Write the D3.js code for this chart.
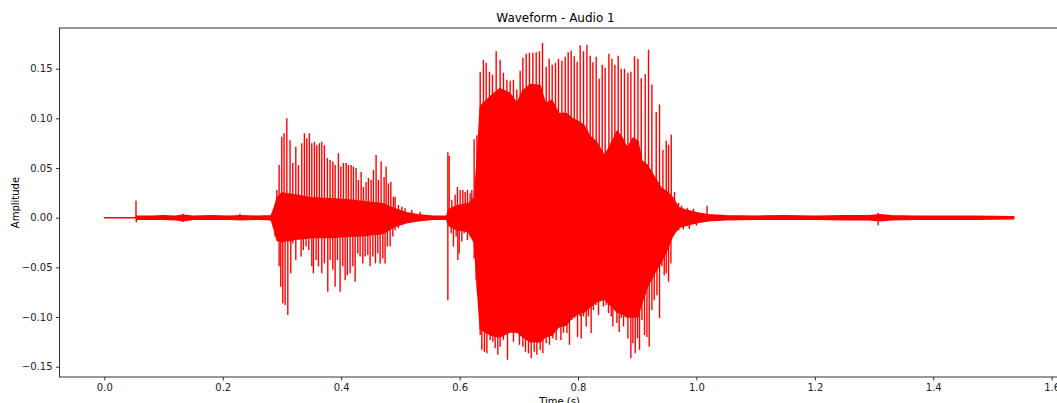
<!DOCTYPE html>
<html>
<head>
<meta charset="utf-8">
<script src="https://cdn.jsdelivr.net/npm/d3@7"></script>
<style>
  html, body { margin: 0; padding: 0; background: #fff; }
  svg { display: block; font-family: "DejaVu Sans", sans-serif; }
</style>
</head>
<body>
<svg id="chart" width="1057" height="403"></svg>
<script>
// Dense core of the waveform (the solid band between successive pulses), seconds / amplitude
const coreTime  = [0.000, 0.0530, 0.0545, 0.080, 0.100, 0.120, 0.133, 0.150, 0.180, 0.210, 0.230, 0.260,
  0.282, 0.287, 0.292, 0.300, 0.320, 0.350, 0.380, 0.410, 0.440, 0.470, 0.490, 0.510, 0.530, 0.555,
  0.578, 0.582, 0.595, 0.615, 0.625, 0.630, 0.635, 0.652, 0.668, 0.685, 0.697, 0.707, 0.720, 0.736,
  0.745, 0.756, 0.767, 0.780, 0.790, 0.800, 0.810, 0.820, 0.830, 0.845, 0.858, 0.866, 0.875, 0.883,
  0.893, 0.901, 0.908, 0.917, 0.930, 0.940, 0.950, 0.960, 0.970, 0.980, 1.000, 1.020, 1.050, 1.100,
  1.150, 1.200, 1.250, 1.290, 1.310, 1.330, 1.370, 1.420, 1.470, 1.536];
const coreUpper = [0, 0, 0.0015, 0.0015, 0.002, 0.0015, 0.0025, 0.0015, 0.002, 0.0015, 0.002, 0.0015,
  0.002, 0.010, 0.020, 0.025, 0.023, 0.020, 0.019, 0.018, 0.016, 0.014, 0.009, 0.005, 0.003, 0.0015,
  0.0015, 0.008, 0.012, 0.014, 0.020, 0.060, 0.112, 0.122, 0.130, 0.125, 0.115, 0.128, 0.134, 0.133,
  0.115, 0.118, 0.105, 0.105, 0.100, 0.097, 0.093, 0.082, 0.077, 0.062, 0.077, 0.087, 0.080, 0.070,
  0.080, 0.077, 0.057, 0.053, 0.040, 0.030, 0.026, 0.020, 0.010, 0.008, 0.005, 0.003, 0.002, 0.0015,
  0.002, 0.0015, 0.002, 0.002, 0.003, 0.002, 0.0015, 0.0015, 0.0015, 0.001];
const coreLower = [0, 0, -0.0015, -0.0015, -0.0015, -0.002, -0.003, -0.0015, -0.0015, -0.0015, -0.002, -0.0015,
  -0.002, -0.012, -0.023, -0.024, -0.022, -0.020, -0.020, -0.019, -0.018, -0.016, -0.009, -0.005, -0.003, -0.0015,
  -0.0015, -0.008, -0.012, -0.014, -0.025, -0.070, -0.112, -0.118, -0.120, -0.115, -0.115, -0.120, -0.125, -0.125,
  -0.120, -0.118, -0.110, -0.108, -0.100, -0.097, -0.095, -0.090, -0.085, -0.082, -0.090, -0.095, -0.097, -0.100,
  -0.100, -0.100, -0.085, -0.070, -0.055, -0.045, -0.033, -0.018, -0.010, -0.008, -0.005, -0.003, -0.002, -0.0015,
  -0.0015, -0.0015, -0.002, -0.002, -0.003, -0.002, -0.0015, -0.0015, -0.0015, -0.001];

// Positive excursion of each pulse
const peakTime = [0.0535, 0.1330, 0.2290,
  0.2884, 0.2913, 0.2952, 0.2997, 0.3036, 0.3082, 0.3137, 0.3183, 0.3234, 0.3278, 0.3335, 0.3379,
  0.3420, 0.3463, 0.3504, 0.3548, 0.3588, 0.3632, 0.3673, 0.3717, 0.3768, 0.3813, 0.3859, 0.3898,
  0.3953, 0.3994, 0.4038, 0.4084, 0.4122, 0.4168, 0.4207, 0.4252, 0.4291, 0.4337, 0.4376, 0.4421,
  0.4460, 0.4506, 0.4545, 0.4590, 0.4629, 0.4675, 0.4725, 0.4759, 0.4798, 0.4839, 0.4883, 0.4911,
  0.4967, 0.5025, 0.5080, 0.5193, 0.5334,
  0.5802, 0.5824, 0.5869, 0.5925, 0.5964, 0.6010, 0.6055, 0.6094, 0.6133, 0.6178,
  0.6207, 0.6246, 0.6292, 0.6319, 0.6348, 0.6403, 0.6449, 0.6505, 0.6555, 0.6618, 0.6685, 0.6741,
  0.6799, 0.6854, 0.6910, 0.6967, 0.7023, 0.7069, 0.7125, 0.7180, 0.7238, 0.7294, 0.7349, 0.7400,
  0.7463, 0.7513, 0.7564, 0.7620, 0.7670, 0.7728, 0.7784, 0.7834, 0.7885, 0.7936, 0.7986, 0.8037,
  0.8093, 0.8150, 0.8206, 0.8251, 0.8307, 0.8358, 0.8409, 0.8459, 0.8522, 0.8573, 0.8623, 0.8679,
  0.8730, 0.8785, 0.8843, 0.8893, 0.8954, 0.9012, 0.9068, 0.9135, 0.9191, 0.9248, 0.9321, 0.9377,
  0.9434, 0.9490, 0.9529, 0.9575, 0.9630, 0.9698,
  0.9750, 0.9850, 0.9950, 1.0180, 1.3070];
const peakValue = [0.017, 0.004, 0.004,
  0.0128, 0.028, 0.053, 0.0815, 0.085, 0.100, 0.078, 0.055, 0.0715, 0.053, 0.075, 0.085,
  0.080, 0.085, 0.075, 0.0765, 0.073, 0.075, 0.0765, 0.073, 0.060, 0.058, 0.0565, 0.053,
  0.065, 0.0515, 0.055, 0.055, 0.053, 0.053, 0.0515, 0.050, 0.038, 0.046, 0.031, 0.036,
  0.040, 0.038, 0.048, 0.063, 0.038, 0.0565, 0.041, 0.0515, 0.0345, 0.036, 0.021, 0.021,
  0.0128, 0.011, 0.0095, 0.0078, 0.006,
  0.066, 0.062, 0.018, 0.023, 0.031, 0.028, 0.028, 0.026, 0.028, 0.0245,
  0.028, 0.079, 0.083, 0.062, 0.147, 0.159, 0.156, 0.147, 0.144, 0.1675, 0.159, 0.146,
  0.139, 0.138, 0.139, 0.129, 0.148, 0.161, 0.165, 0.166, 0.166, 0.1665, 0.1675, 0.176,
  0.152, 0.160, 0.154, 0.156, 0.160, 0.158, 0.162, 0.1665, 0.168, 0.1625, 0.157, 0.1735,
  0.1675, 0.174, 0.163, 0.1565, 0.162, 0.140, 0.154, 0.151, 0.165, 0.160, 0.154, 0.163,
  0.150, 0.150, 0.146, 0.147, 0.1625, 0.160, 0.1405, 0.1445, 0.169, 0.134, 0.1065, 0.114,
  0.0685, 0.0775, 0.0735, 0.0835, 0.026, 0.015,
  0.012, 0.010, 0.009, 0.012, 0.005];

// Negative excursion of each pulse
const troughTime = [0.0540, 0.1330,
  0.2884, 0.2952, 0.2980, 0.3014, 0.3053, 0.3099, 0.3149, 0.3183, 0.3234, 0.3278, 0.3323, 0.3362,
  0.3408, 0.3453, 0.3504, 0.3531, 0.3577, 0.3616, 0.3673, 0.3717, 0.3774, 0.3813, 0.3859, 0.3898,
  0.3937, 0.3982, 0.4028, 0.4067, 0.4105, 0.4151, 0.4197, 0.4236, 0.4281, 0.4320, 0.4366, 0.4405,
  0.4450, 0.4489, 0.4535, 0.4579, 0.4619, 0.4658, 0.4704, 0.4742, 0.4781, 0.4827, 0.4873, 0.4911,
  0.4967, 0.5025, 0.5080, 0.5193,
  0.5802, 0.5858, 0.5896, 0.5942, 0.5971, 0.5993, 0.6038, 0.6077, 0.6133, 0.6178,
  0.6207, 0.6246, 0.6280, 0.6302, 0.6348, 0.6376, 0.6420, 0.6461, 0.6516, 0.6562, 0.6601, 0.6646,
  0.6685, 0.6741, 0.6809, 0.6854, 0.6910, 0.6967, 0.7011, 0.7069, 0.7113, 0.7163, 0.7209, 0.7260,
  0.7305, 0.7361, 0.7407, 0.7463, 0.7518, 0.7576, 0.7631, 0.7670, 0.7711, 0.7755, 0.7813, 0.7856,
  0.7897, 0.7941, 0.7992, 0.8037, 0.8054, 0.8093, 0.8138, 0.8176, 0.8222, 0.8261, 0.8302, 0.8346,
  0.8392, 0.8431, 0.8476, 0.8515, 0.8561, 0.8589, 0.8616, 0.8657, 0.8696, 0.8730, 0.8769, 0.8809,
  0.8843, 0.8893, 0.8927, 0.8966, 0.9005, 0.9039, 0.9080, 0.9123, 0.9164, 0.9203, 0.9248, 0.9287,
  0.9333, 0.9377, 0.9417, 0.9456, 0.9490, 0.9529, 0.9569, 0.9603,
  0.9700, 0.9780, 0.9880, 1.0000, 1.3070];
const troughValue = [-0.0045, -0.004,
  -0.019, -0.049, -0.0695, -0.086, -0.088, -0.098, -0.056, -0.026, -0.0425, -0.019, -0.039, -0.0325,
  -0.029, -0.0325, -0.049, -0.056, -0.0425, -0.049, -0.056, -0.046, -0.0745, -0.0425, -0.0525, -0.0695,
  -0.0425, -0.0745, -0.049, -0.063, -0.058, -0.056, -0.049, -0.0645, -0.036, -0.039, -0.046, -0.039,
  -0.0375, -0.049, -0.039, -0.046, -0.036, -0.046, -0.041, -0.046, -0.029, -0.029, -0.019, -0.0124,
  -0.0107, -0.0074, -0.0057, -0.004,
  -0.083, -0.0157, -0.029, -0.019, -0.0425, -0.036, -0.024, -0.0157, -0.0225, -0.019,
  -0.019, -0.041, -0.063, -0.0745, -0.118, -0.133, -0.135, -0.1365, -0.123, -0.125, -0.1315, -0.138,
  -0.130, -0.123, -0.143, -0.115, -0.125, -0.116, -0.128, -0.130, -0.135, -0.1365, -0.1415, -0.135,
  -0.138, -0.133, -0.1365, -0.1265, -0.128, -0.1215, -0.123, -0.106, -0.123, -0.116, -0.116, -0.128,
  -0.103, -0.101, -0.120, -0.099, -0.1215, -0.0995, -0.1095, -0.0995, -0.116, -0.093, -0.088, -0.098,
  -0.081, -0.0895, -0.088, -0.096, -0.0995, -0.1095, -0.091, -0.106, -0.115, -0.101, -0.1095, -0.098,
  -0.1215, -0.1415, -0.1265, -0.1365, -0.1215, -0.133, -0.103, -0.118, -0.120, -0.130, -0.093, -0.083,
  -0.078, -0.101, -0.049, -0.058, -0.056, -0.0645, -0.046, -0.019,
  -0.013, -0.012, -0.011, -0.008, -0.0075];

const xTicks = [0.0, 0.2, 0.4, 0.6, 0.8, 1.0, 1.2, 1.4, 1.6];
const yTicks = [-0.15, -0.10, -0.05, 0.00, 0.05, 0.10, 0.15];

const plot = { left: 59.5, right: 1059.5, top: 28, bottom: 377 };
const RED = "#ff0000";

const svg = d3.select("#chart");

const x = d3.scaleLinear().domain([-0.0757, 1.6132]).range([plot.left, plot.right]);
const y = d3.scaleLinear().domain([-0.16037, 0.19098]).range([plot.bottom, plot.top]);

svg.append("defs").append("clipPath").attr("id", "plotClip")
  .append("rect")
  .attr("x", plot.left).attr("y", plot.top)
  .attr("width", plot.right - plot.left).attr("height", plot.bottom - plot.top);

const g = svg.append("g").attr("clip-path", "url(#plotClip)");

// solid core of the signal
const core = coreTime.map((t, i) => ({ t, hi: coreUpper[i], lo: coreLower[i] }));
g.append("path")
  .datum(core)
  .attr("d", d3.area().x(d => x(d.t)).y0(d => y(d.lo)).y1(d => y(d.hi)))
  .attr("fill", RED)
  .attr("stroke", RED)
  .attr("stroke-width", 1.5)
  .attr("stroke-linejoin", "round");

// individual pulses
const pulses = peakTime.map((t, i) => ({ t, v: peakValue[i] }))
  .concat(troughTime.map((t, i) => ({ t, v: troughValue[i] })));
g.selectAll("line.pulse")
  .data(pulses)
  .join("line")
  .attr("class", "pulse")
  .attr("x1", d => x(d.t)).attr("x2", d => x(d.t))
  .attr("y1", y(0)).attr("y2", d => y(d.v))
  .attr("stroke", RED)
  .attr("stroke-width", 1.4);

// axes
const fmtX = d3.format(".1f");
const fmtY = v => d3.format(".2f")(v).replace("-", "\u2212");

const xAxis = d3.axisBottom(x).tickValues(xTicks).tickFormat(fmtX).tickSizeOuter(0).tickSize(3.5).tickPadding(3.5);
const yAxis = d3.axisLeft(y).tickValues(yTicks).tickFormat(fmtY).tickSizeOuter(0).tickSize(3.5).tickPadding(3.5);

const gx = svg.append("g").attr("transform", `translate(0,${plot.bottom})`).call(xAxis);
const gy = svg.append("g").attr("transform", `translate(${plot.left},0)`).call(yAxis);
[gx, gy].forEach(a => {
  a.select(".domain").remove();
  a.selectAll(".tick line").attr("stroke", "#000").attr("stroke-width", 0.8);
  a.selectAll(".tick text").attr("fill", "#222").attr("font-size", 10)
    .attr("font-family", "DejaVu Sans, sans-serif");
});

// frame
svg.append("rect")
  .attr("x", plot.left).attr("y", plot.top)
  .attr("width", plot.right - plot.left).attr("height", plot.bottom - plot.top)
  .attr("fill", "none").attr("stroke", "#000").attr("stroke-width", 0.8);

const midX = (plot.left + plot.right) / 2;
svg.append("text")
  .attr("x", midX - 4).attr("y", 22)
  .attr("text-anchor", "middle").attr("font-size", 12).attr("fill", "#000")
  .text("Waveform - Audio 1");

svg.append("text")
  .attr("x", midX).attr("y", 405)
  .attr("text-anchor", "middle").attr("font-size", 10).attr("fill", "#000")
  .text("Time (s)");

svg.append("text")
  .attr("transform", `translate(19,${(plot.top + plot.bottom) / 2}) rotate(-90)`)
  .attr("text-anchor", "middle").attr("font-size", 10).attr("fill", "#000")
  .text("Amplitude");
</script>
</body>
</html>
